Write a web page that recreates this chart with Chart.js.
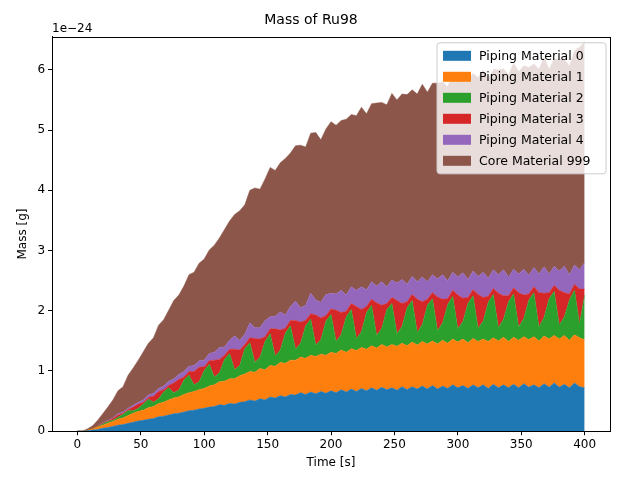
<!DOCTYPE html>
<html><head><meta charset="utf-8">
<script src="https://cdn.jsdelivr.net/npm/chart.js@4/dist/chart.umd.min.js"></script>
<style>body{margin:0;background:#fff}#w{width:640px;height:480px}</style>
</head><body><div id="w"><canvas id="c"></canvas></div>
<script>
const time = Array.from({length:101},(_, i)=>i*4);
const seriesNames = ["Piping Material 0","Piping Material 1","Piping Material 2","Piping Material 3","Piping Material 4","Core Material 999"];
const colors = ["#1f77b4","#ff7f0e","#2ca02c","#d62728","#9467bd","#8c564b"];
const pm0 = [0,0,0.01,0.02,0.03,0.05,0.06,0.08,0.10,0.11,0.13,0.15,0.17,
0.18,0.20,0.21,0.24,0.25,0.27,0.29,0.30,0.32,0.34,0.35,0.37,0.38,
0.40,0.41,0.44,0.43,0.46,0.45,0.48,0.49,0.52,0.50,0.54,0.52,
0.57,0.55,0.59,0.57,0.61,0.60,0.64,0.61,0.65,0.62,0.66,0.63,0.67,
0.64,0.69,0.65,0.70,0.66,0.71,0.67,0.72,0.68,0.73,0.69,0.72,
0.68,0.74,0.69,0.74,0.70,0.75,0.70,0.76,0.70,0.75,0.71,0.77,0.72,
0.76,0.71,0.77,0.72,0.77,0.71,0.78,0.72,0.77,0.72,0.78,0.72,
0.79,0.73,0.77,0.72,0.79,0.73,0.80,0.73,0.78,0.72,0.80,0.74,0.72];
const pm1 = [0,0,0.01,0.02,0.04,0.05,0.07,0.08,0.10,0.11,0.13,0.15,0.16,
0.17,0.19,0.20,0.22,0.23,0.25,0.26,0.27,0.29,0.30,0.31,0.32,0.33,
0.35,0.36,0.38,0.40,0.41,0.42,0.44,0.46,0.47,0.48,0.50,0.50,
0.52,0.53,0.55,0.56,0.57,0.58,0.59,0.60,0.61,0.62,0.62,0.63,0.64,
0.65,0.66,0.66,0.67,0.68,0.68,0.69,0.70,0.70,0.71,0.71,0.72,
0.73,0.72,0.73,0.74,0.73,0.74,0.75,0.74,0.75,0.76,0.75,0.76,0.76,
0.77,0.76,0.77,0.77,0.76,0.78,0.77,0.78,0.79,0.77,0.78,0.79,
0.78,0.79,0.80,0.78,0.79,0.80,0.79,0.80,0.81,0.79,0.80,0.81,0.80];
const pm2 = [0,0,0,0,0.01,0.02,0.03,0.02,0.03,0.06,0.08,0.04,0.05,
0.10,0.14,0.07,0.08,0.17,0.20,0.09,0.11,0.24,0.29,0.11,0.13,0.30,
0.36,0.13,0.15,0.36,0.42,0.15,0.17,0.42,0.48,0.16,0.19,0.47,
0.53,0.17,0.21,0.50,0.57,0.18,0.23,0.54,0.60,0.19,0.24,0.57,0.63,
0.20,0.25,0.59,0.65,0.20,0.26,0.61,0.67,0.21,0.27,0.62,0.68,
0.21,0.28,0.63,0.69,0.21,0.28,0.64,0.70,0.22,0.29,0.64,0.71,0.22,
0.29,0.65,0.71,0.22,0.30,0.65,0.72,0.22,0.30,0.66,0.72,0.22,
0.30,0.66,0.73,0.23,0.31,0.67,0.73,0.23,0.31,0.67,0.74,0.23,0.74];
const pm3 = [0,0,0,0,0.01,0.01,0.01,0.03,0.04,0.02,0.02,0.06,0.07,
0.03,0.03,0.10,0.12,0.04,0.04,0.16,0.18,0.05,0.06,0.22,0.24,0.06,
0.06,0.28,0.22,0.07,0.07,0.34,0.26,0.07,0.08,0.40,0.30,0.08,
0.08,0.45,0.33,0.08,0.09,0.48,0.35,0.09,0.09,0.50,0.36,0.09,0.09,
0.52,0.37,0.09,0.10,0.53,0.37,0.10,0.10,0.54,0.38,0.10,0.10,
0.55,0.38,0.10,0.10,0.55,0.38,0.10,0.10,0.56,0.39,0.10,0.10,0.56,
0.39,0.10,0.10,0.56,0.39,0.10,0.10,0.57,0.39,0.10,0.10,0.57,
0.39,0.10,0.10,0.57,0.40,0.10,0.10,0.58,0.40,0.10,0.10,0.58,0.10];
const pm4 = [0,0,0,0,0,0.01,0.01,0.01,0.02,0.02,0.02,0.03,0.03,
0.04,0.04,0.05,0.05,0.06,0.07,0.07,0.08,0.09,0.09,0.10,0.11,0.11,
0.12,0.13,0.20,0.14,0.15,0.22,0.16,0.17,0.25,0.18,0.19,0.27,
0.20,0.21,0.30,0.22,0.23,0.32,0.24,0.25,0.34,0.25,0.26,0.35,0.26,
0.27,0.37,0.27,0.28,0.27,0.38,0.28,0.29,0.28,0.39,0.28,0.29,
0.29,0.40,0.29,0.30,0.29,0.41,0.29,0.30,0.30,0.41,0.30,0.30,0.30,
0.42,0.30,0.31,0.30,0.42,0.30,0.31,0.31,0.43,0.31,0.31,0.31,
0.43,0.31,0.32,0.31,0.44,0.31,0.32,0.32,0.44,0.32,0.32,0.32,0.44];
const core = [0,0,0.02,0.05,0.09,0.15,0.22,0.30,0.38,0.42,0.55,0.62,0.70,
0.80,0.86,0.92,1.05,1.10,1.18,1.30,1.32,1.42,1.52,1.55,1.62,1.68,
1.72,1.78,1.82,1.95,1.98,2.02,2.15,2.15,2.20,2.32,2.30,2.35,
2.48,2.42,2.48,2.60,2.55,2.58,2.70,2.63,2.66,2.78,2.70,2.75,2.85,
2.80,2.82,2.92,2.86,2.90,2.98,2.92,2.96,3.04,2.98,3.02,3.10,
3.04,3.08,3.15,3.10,3.12,3.20,3.15,3.18,3.25,3.20,3.22,3.30,3.24,
3.26,3.34,3.28,3.30,3.36,3.30,3.33,3.40,3.34,3.36,3.42,3.36,
3.38,3.45,3.38,3.40,3.48,3.40,3.44,3.52,3.44,3.46,3.56,3.70,3.66];
const xTicks = [0,50,100,150,200,250,300,350,400];
const yTicks = [0,1,2,3,4,5,6];
const all = [pm0,pm1,pm2,pm3,pm4,core];
const F = "'DejaVu Sans', sans-serif";
const datasets = all.map((arr,k)=>({
  label: seriesNames[k],
  data: arr.map((v,i)=>({x:time[i], y:v})),
  backgroundColor: colors[k], borderColor: colors[k], borderWidth: 0.5,
  pointRadius: 0, fill: k===0 ? 'origin' : '-1', tension: 0
}));
const legendPlugin = {
  id:'mplLegend',
  afterDraw(ch){
    const c = ch.ctx, a = ch.chartArea;
    c.save();
    c.strokeStyle='#000'; c.lineWidth=1;
    c.strokeRect(Math.round(a.left)+0.5, Math.round(a.top)+0.5, Math.round(a.right-a.left), Math.round(a.bottom-a.top));
    const w = 169, h = 131, x0 = a.right - w - 4, y0 = a.top + 6;
    c.globalAlpha = 0.8; c.fillStyle = '#fff';
    c.beginPath(); c.roundRect(x0,y0,w,h,3); c.fill();
    c.globalAlpha = 1; c.strokeStyle = '#ccc'; c.lineWidth = 1; c.stroke();
    c.font = "12.5px " + F; c.textBaseline = 'middle'; c.textAlign='left';
    seriesNames.forEach((n,i)=>{
      const yy = y0 + 13 + i*21;
      c.fillStyle = colors[i]; c.fillRect(x0+6, yy-5, 28, 10);
      c.fillStyle = '#000'; c.fillText(n, x0+42, yy+1);
    });
    c.font = "12px " + F; c.textAlign='left'; c.textBaseline='bottom';
    c.fillText('1e\u221224', a.left, a.top - 2);
    c.restore();
  }
};
new Chart(document.getElementById('c'), {
  type:'line',
  data:{datasets},
  options:{
    responsive:true, maintainAspectRatio:false, animation:false,
    layout:{padding:{left:12,right:30,top:0,bottom:6}},
    plugins:{legend:{display:false}, tooltip:{enabled:false},
      title:{display:true, text:'Mass of Ru98', color:'#000', font:{family:F,size:14,weight:'normal'}, padding:{top:12,bottom:8}}},
    scales:{
      x:{type:'linear', min:-20, max:420,
        grid:{drawOnChartArea:false, drawTicks:true, tickLength:4, color:'#000'},
        border:{color:'#000'},
        afterBuildTicks(s){ s.ticks = xTicks.map(v=>({value:v})); },
        ticks:{color:'#000', font:{family:F,size:12}, maxRotation:0, padding:2},
        title:{display:true, text:'Time [s]', color:'#000', font:{family:F,size:12}, padding:{top:2}}},
      y:{type:'linear', min:0, max:6.55, stacked:true,
        grid:{drawOnChartArea:false, drawTicks:true, tickLength:4, color:'#000'},
        border:{color:'#000'},
        afterBuildTicks(s){ s.ticks = yTicks.map(v=>({value:v})); },
        ticks:{color:'#000', font:{family:F,size:12}, padding:3},
        title:{display:true, text:'Mass [g]', color:'#000', font:{family:F,size:12}}}
    }
  },
  plugins:[legendPlugin]
});
</script></body></html>
